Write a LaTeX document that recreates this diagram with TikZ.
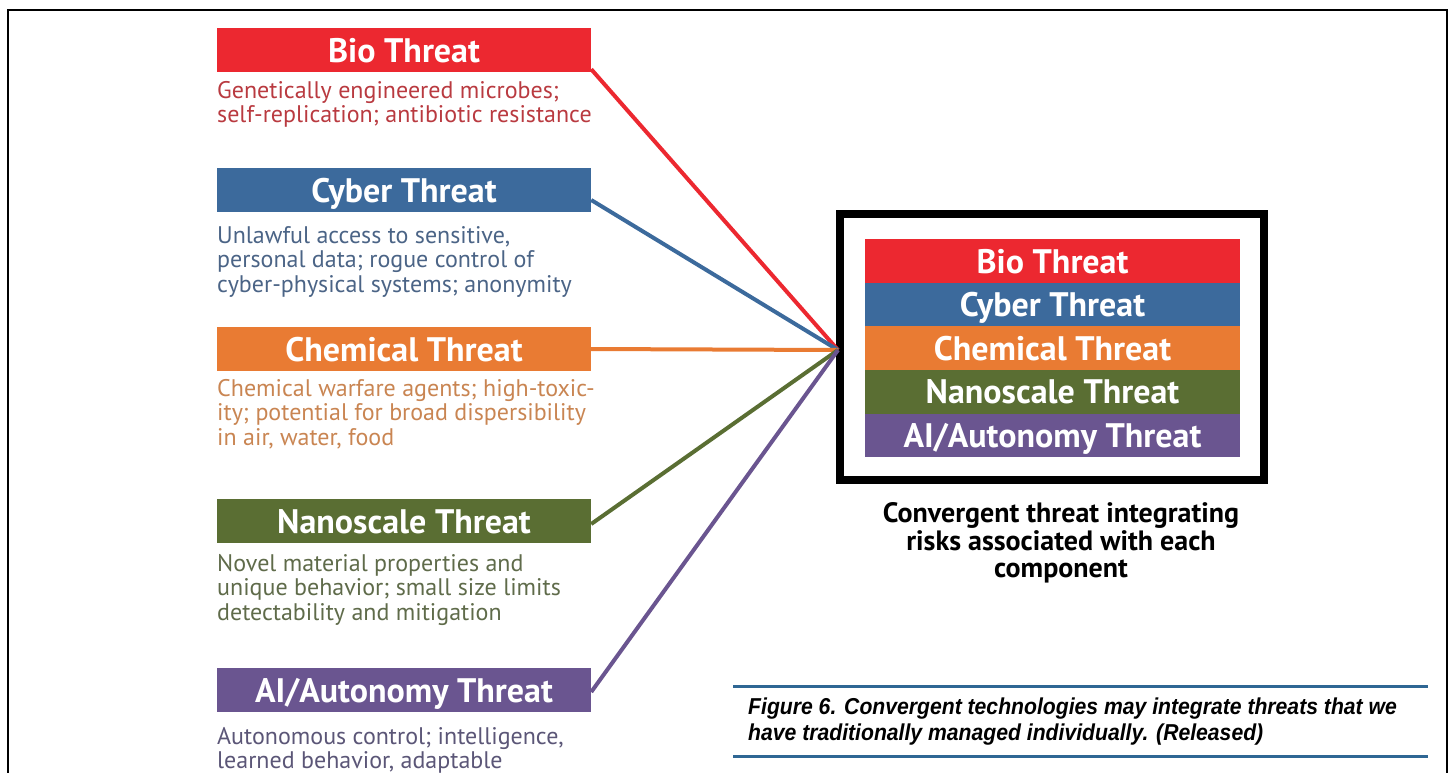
\documentclass[tikz,border=0pt]{standalone}
\usepackage{fontspec}
\usepackage{tikz}
\setmainfont{PT Sans}
\newfontfamily\headfont{PT Sans}
\newfontfamily\descfont{PT Sans}
\newfontfamily\capfont{Liberation Sans}[FakeStretch=0.92]

\definecolor{biored}{HTML}{EC2830}
\definecolor{cyberblue}{HTML}{3C6A9C}
\definecolor{chemorange}{HTML}{E97B33}
\definecolor{nanogreen}{HTML}{5A6E33}
\definecolor{aipurple}{HTML}{6A5590}
\definecolor{biotext}{HTML}{B93A40}
\definecolor{cybertext}{HTML}{4B6486}
\definecolor{chemtext}{HTML}{C98552}
\definecolor{nanotext}{HTML}{5F6B4A}
\definecolor{aitext}{HTML}{5B5677}
\definecolor{rulecol}{HTML}{2F6794}

\begin{document}
\begin{tikzpicture}[x=1pt, y=-1pt,
    header/.style={minimum width=374pt, minimum height=44pt, inner sep=0pt,
      text=white, text height=24pt, text depth=0pt,
      font=\headfont\bfseries\fontsize{34}{36}\selectfont},
    stackrow/.style={minimum width=375pt, minimum height=43.6pt, inner sep=0pt,
      text=white, text height=24pt, text depth=0pt,
      font=\headfont\bfseries\fontsize{34}{36}\selectfont},
    desc/.style={anchor=base west, inner sep=0pt, align=left,
      font=\descfont\fontsize{24}{24.5}\selectfont},
    link/.style={line width=4pt}]
    \useasboundingbox (0,0) rectangle (1453,772);

    % page frame
    \draw[line width=1.5pt] (8,790) -- (8,10) -- (1447,10) -- (1447,790);

    % single threats
    \node[header, fill=biored] (bio) at (404,50) {Bio Threat};
    \node[desc, text=biotext] (biod) at (217,122.5) {Genetically engineered microbes;\\self-replication; antibiotic resistance};

    \node[header, fill=cyberblue] (cyber) at (404,190) {Cyber Threat};
    \node[desc, text=cybertext] (cyberd) at (217,292) {Unlawful access to sensitive,\\personal data; rogue control of\\cyber-physical systems; anonymity};

    \node[header, fill=chemorange] (chem) at (404,349) {Chemical Threat};
    \node[desc, text=chemtext] (chemd) at (217,445) {Chemical warfare agents; high-toxic-\\ity; potential for broad dispersibility\\in air, water, food};

    \node[header, fill=nanogreen] (nano) at (404,521) {Nanoscale Threat};
    \node[desc, text=nanotext] (nanod) at (217,620) {Novel material properties and\\unique behavior; small size limits\\detectability and mitigation};

    \node[header, fill=aipurple] (ai) at (404,690) {AI/Autonomy Threat};
    \node[desc, text=aitext] (aid) at (217,768.5) {Autonomous control; intelligence,\\learned behavior, adaptable};

    % convergent threat
    \node[draw=black, line width=8pt, minimum width=424pt, minimum height=266pt, inner sep=0pt] (conv) at (1052,347) {};
    \node[stackrow, fill=biored] (sbio) at (1052.5,261) {Bio Threat};
    \node[stackrow, fill=cyberblue] (scyber) at (1052.5,304.6) {Cyber Threat};
    \node[stackrow, fill=chemorange] (schem) at (1052.5,348.2) {Chemical Threat};
    \node[stackrow, fill=nanogreen] (snano) at (1052.5,391.8) {Nanoscale Threat};
    \node[stackrow, fill=aipurple] (sai) at (1052.5,435.4) {AI/Autonomy Threat};

    \node[align=center, inner sep=0pt, font=\headfont\bfseries\fontsize{28}{27.5}\selectfont] (convtxt) at (1061,543) {Convergent threat integrating\\risks associated with each\\component};

    \coordinate (hub) at (838,350);
    \draw[link, biored] ([yshift=3pt]bio.south east) -- (hub);
    \draw[link, cyberblue] ([yshift=-10pt]cyber.east) -- (hub);
    \draw[link, chemorange] (chem.east) -- (hub);
    \draw[link, nanogreen] ([yshift=-3pt]nano.east) -- (hub);
    \draw[link, aipurple] ([yshift=-2pt]ai.east) -- (hub);

    % figure caption
    \coordinate (rule1w) at (733,686);
    \coordinate (rule1e) at (1428,686);
    \coordinate (rule2w) at (733,756);
    \coordinate (rule2e) at (1428,756);
    \draw[rulecol, line width=3pt] (rule1w) -- (rule1e);
    \draw[rulecol, line width=3pt] (rule2w) -- (rule2e);
    \node[anchor=base west, inner sep=0pt, align=left,
      font=\capfont\bfseries\itshape\fontsize{23}{26}\selectfont] (caption) at (748,740)
      {Figure 6. Convergent technologies may integrate threats that we\\have traditionally managed individually. (Released)};
  \end{tikzpicture}
\end{document}
